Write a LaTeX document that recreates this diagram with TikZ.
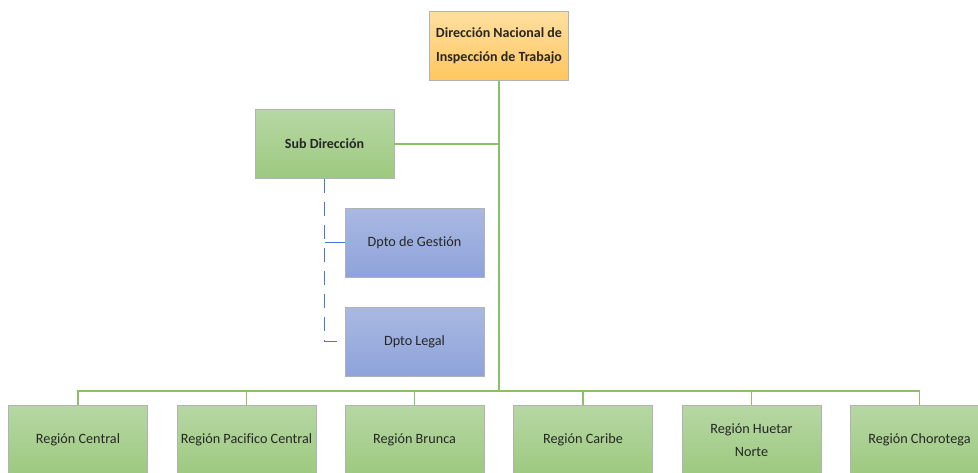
\documentclass[tikz,border=0pt]{standalone}
\usepackage{fontspec}
\setmainfont{Carlito}[Ligatures={NoCommon}]
\definecolor{gline}{HTML}{8CC066}
\definecolor{bline}{HTML}{4A78C8}
\definecolor{gtop}{HTML}{B6D7A4}
\definecolor{gbot}{HTML}{9DC97F}
\definecolor{btop}{HTML}{AAB9E2}
\definecolor{bbot}{HTML}{8DA3DA}
\definecolor{otop}{HTML}{FFDFA0}
\definecolor{obot}{HTML}{FFC65E}
\definecolor{txt}{HTML}{262626}
\tikzset{
  box/.style={rectangle, minimum width=139pt, minimum height=69pt, draw=black!30, line width=0.8pt, inner sep=1pt, align=center, font=\fontsize{14.2}{23}\selectfont, text=txt},
  gbox/.style={box, top color=gtop, bottom color=gbot},
  bbox/.style={box, top color=btop, bottom color=bbot},
  obox/.style={box, top color=otop, bottom color=obot, font=\fontsize{14}{24}\selectfont\bfseries},
  gconn/.style={draw=gline, line width=1.6pt},
  bconn/.style={draw=bline, line width=1.4pt, dash pattern=on 14pt off 9pt}
}
\begin{document}
\begin{tikzpicture}[x=1pt,y=-1pt]
\useasboundingbox (0,0) rectangle (978,472);
\clip (0,0) rectangle (978,472);
% nodes
\node[obox] (dir) at (499,46) {Dirección Nacional de\\Inspección de Trabajo};
\node[gbox, font=\fontsize{14}{23}\selectfont\bfseries] (sub) at (324.5,144) {Sub Dirección};
\node[bbox] (ges) at (414.5,242.5) {Dpto de Gestión};
\node[bbox] (leg) at (414.5,341.5) {Dpto Legal};
\node[gbox] (r1) at (78,440) {Región Central};
\node[gbox] (r2) at (246.5,440) {Región Pacifico Central};
\node[gbox] (r3) at (414.5,440) {Región Brunca};
\node[gbox] (r4) at (583,440) {Región Caribe};
\node[gbox] (r5) at (751.5,440) {Región Huetar\\Norte};
\node[gbox] (r6) at (919.5,440) {Región Chorotega};
% connectors
\coordinate (bus) at (499,391);
\draw[gconn] (dir.south) -- (bus);
\draw[gconn] (sub.east) -- (sub.east -| dir.south);
\draw[gconn] (r1.north) |- (bus) -| (r6.north);
\foreach \r in {r2,r3,r4,r5} \draw[gconn] (\r.north) -- (\r.north |- bus);
\draw[bconn] (sub.south) |- (leg.west);
\draw[bline, line width=1.4pt] (sub.south |- ges.west) -- (ges.west);
\end{tikzpicture}
\end{document}
